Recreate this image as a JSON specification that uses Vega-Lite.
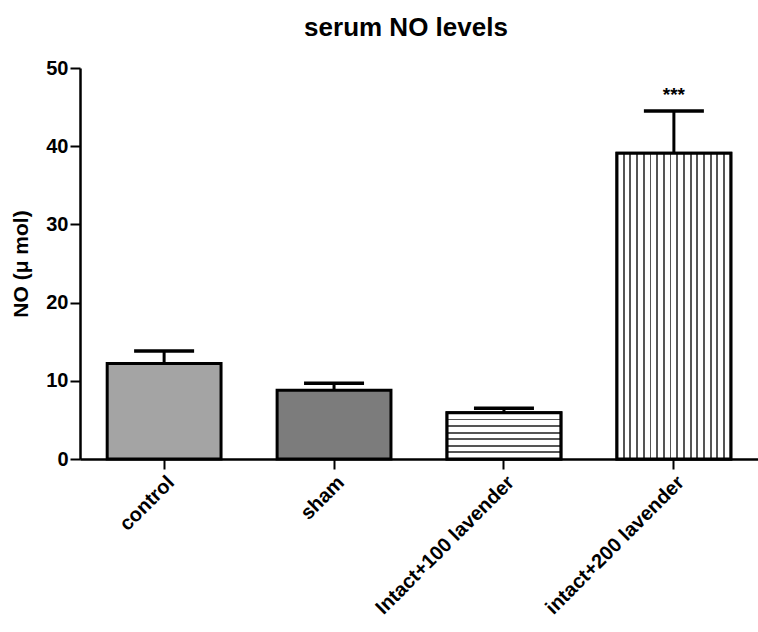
{
  "$schema": "https://vega.github.io/schema/vega-lite/v6.json",
  "autosize": {"type": "none"},
  "width": 678,
  "height": 391,
  "padding": {"left": 80, "top": 68, "right": 0, "bottom": 173},
  "background": "white",
  "config": {
    "font": "Liberation Sans",
    "view": {"stroke": null},
    "axis": {"domainColor": "black", "domainWidth": 2.5, "tickColor": "black", "tickWidth": 2, "tickSize": 10, "labelColor": "black", "labelFont": "Liberation Sans", "labelFontWeight": "bold", "titleFont": "Liberation Sans", "titleColor": "black", "grid": false},
    "tick": {"thickness": 3}
  },
  "title": {"text": "serum NO levels", "fontSize": 26, "fontWeight": "bold", "font": "Liberation Sans", "color": "black", "offset": 17, "dx": -13},
  "data": {"values": [
    {"group": "control", "NO": 12.2, "upper": 13.8, "sig": ""},
    {"group": "sham", "NO": 8.8, "upper": 9.7, "sig": ""},
    {"group": "Intact+100 lavender", "NO": 5.9, "upper": 6.5, "sig": ""},
    {"group": "intact+200 lavender", "NO": 39.1, "upper": 44.5, "sig": "***"}
  ]},
  "encoding": {
    "x": {"field": "group", "type": "nominal", "sort": null,
      "scale": {"paddingInner": 0.33, "paddingOuter": 0.16},
      "axis": {"title": null, "labelAngle": -45, "labelFontSize": 20, "labelPadding": 3, "labelLimit": 400}},
    "y": {"field": "NO", "type": "quantitative",
      "scale": {"domain": [0, 50], "nice": false},
      "axis": {"title": "NO (μ mol)", "values": [0, 10, 20, 30, 40, 50], "labelFontSize": 20, "titleFontSize": 21, "titleFontWeight": "bold", "titlePadding": 14, "labelPadding": 2}}
  },
  "layer": [
    {
      "mark": {"type": "bar", "stroke": "black", "strokeWidth": 3, "strokeJoin": "miter"},
      "encoding": {
        "fill": {"field": "group", "type": "nominal", "sort": null, "legend": null,
          "scale": {"domain": ["control", "sham", "Intact+100 lavender", "intact+200 lavender"], "range": ["#a4a4a4", "#7c7c7c", "#ffffff", "#ffffff"]}}
      }
    },
    {
      "transform": [{"filter": "datum.group === 'Intact+100 lavender'"}],
      "mark": {"type": "bar", "stroke": "black", "strokeWidth": 3, "strokeJoin": "miter",
        "fill": {"gradient": "linear", "x1": 0, "y1": 0, "x2": 0, "y2": 1, "stops": [
          {"offset": 0, "color": "#ffffff"},
          {"offset": 0.123, "color": "#ffffff"}, {"offset": 0.123, "color": "#555555"}, {"offset": 0.163, "color": "#555555"}, {"offset": 0.163, "color": "#ffffff"},
          {"offset": 0.266, "color": "#ffffff"}, {"offset": 0.266, "color": "#555555"}, {"offset": 0.306, "color": "#555555"}, {"offset": 0.306, "color": "#ffffff"},
          {"offset": 0.409, "color": "#ffffff"}, {"offset": 0.409, "color": "#555555"}, {"offset": 0.449, "color": "#555555"}, {"offset": 0.449, "color": "#ffffff"},
          {"offset": 0.551, "color": "#ffffff"}, {"offset": 0.551, "color": "#555555"}, {"offset": 0.591, "color": "#555555"}, {"offset": 0.591, "color": "#ffffff"},
          {"offset": 0.694, "color": "#ffffff"}, {"offset": 0.694, "color": "#555555"}, {"offset": 0.734, "color": "#555555"}, {"offset": 0.734, "color": "#ffffff"},
          {"offset": 0.837, "color": "#ffffff"}, {"offset": 0.837, "color": "#555555"}, {"offset": 0.877, "color": "#555555"}, {"offset": 0.877, "color": "#ffffff"},
          {"offset": 1, "color": "#ffffff"}
        ]}}
    },
    {
      "transform": [{"filter": "datum.group === 'intact+200 lavender'"}],
      "mark": {"type": "bar", "stroke": "black", "strokeWidth": 3, "strokeJoin": "miter",
        "fill": {"gradient": "linear", "x1": 0, "y1": 0, "x2": 1, "y2": 0, "stops": [
          {"offset": 0, "color": "#ffffff"},
          {"offset": 0.051, "color": "#ffffff"}, {"offset": 0.051, "color": "#555555"}, {"offset": 0.067, "color": "#555555"}, {"offset": 0.067, "color": "#ffffff"},
          {"offset": 0.110, "color": "#ffffff"}, {"offset": 0.110, "color": "#555555"}, {"offset": 0.126, "color": "#555555"}, {"offset": 0.126, "color": "#ffffff"},
          {"offset": 0.169, "color": "#ffffff"}, {"offset": 0.169, "color": "#555555"}, {"offset": 0.185, "color": "#555555"}, {"offset": 0.185, "color": "#ffffff"},
          {"offset": 0.227, "color": "#ffffff"}, {"offset": 0.227, "color": "#555555"}, {"offset": 0.243, "color": "#555555"}, {"offset": 0.243, "color": "#ffffff"},
          {"offset": 0.286, "color": "#ffffff"}, {"offset": 0.286, "color": "#555555"}, {"offset": 0.302, "color": "#555555"}, {"offset": 0.302, "color": "#ffffff"},
          {"offset": 0.345, "color": "#ffffff"}, {"offset": 0.345, "color": "#555555"}, {"offset": 0.361, "color": "#555555"}, {"offset": 0.361, "color": "#ffffff"},
          {"offset": 0.404, "color": "#ffffff"}, {"offset": 0.404, "color": "#555555"}, {"offset": 0.420, "color": "#555555"}, {"offset": 0.420, "color": "#ffffff"},
          {"offset": 0.463, "color": "#ffffff"}, {"offset": 0.463, "color": "#555555"}, {"offset": 0.479, "color": "#555555"}, {"offset": 0.479, "color": "#ffffff"},
          {"offset": 0.521, "color": "#ffffff"}, {"offset": 0.521, "color": "#555555"}, {"offset": 0.537, "color": "#555555"}, {"offset": 0.537, "color": "#ffffff"},
          {"offset": 0.580, "color": "#ffffff"}, {"offset": 0.580, "color": "#555555"}, {"offset": 0.596, "color": "#555555"}, {"offset": 0.596, "color": "#ffffff"},
          {"offset": 0.639, "color": "#ffffff"}, {"offset": 0.639, "color": "#555555"}, {"offset": 0.655, "color": "#555555"}, {"offset": 0.655, "color": "#ffffff"},
          {"offset": 0.698, "color": "#ffffff"}, {"offset": 0.698, "color": "#555555"}, {"offset": 0.714, "color": "#555555"}, {"offset": 0.714, "color": "#ffffff"},
          {"offset": 0.757, "color": "#ffffff"}, {"offset": 0.757, "color": "#555555"}, {"offset": 0.773, "color": "#555555"}, {"offset": 0.773, "color": "#ffffff"},
          {"offset": 0.815, "color": "#ffffff"}, {"offset": 0.815, "color": "#555555"}, {"offset": 0.831, "color": "#555555"}, {"offset": 0.831, "color": "#ffffff"},
          {"offset": 0.874, "color": "#ffffff"}, {"offset": 0.874, "color": "#555555"}, {"offset": 0.890, "color": "#555555"}, {"offset": 0.890, "color": "#ffffff"},
          {"offset": 0.933, "color": "#ffffff"}, {"offset": 0.933, "color": "#555555"}, {"offset": 0.949, "color": "#555555"}, {"offset": 0.949, "color": "#ffffff"},
          {"offset": 1, "color": "#ffffff"}
        ]}}
    },
    {
      "mark": {"type": "rule", "color": "black", "strokeWidth": 3},
      "encoding": {"y2": {"field": "upper"}}
    },
    {
      "mark": {"type": "tick", "color": "black", "opacity": 1, "size": 60, "thickness": 3.5, "orient": "horizontal"},
      "encoding": {"y": {"field": "upper", "type": "quantitative"}}
    },
    {
      "mark": {"type": "text", "fontSize": 19, "fontWeight": "bold", "color": "black", "baseline": "bottom", "dy": -6},
      "encoding": {"y": {"field": "upper", "type": "quantitative"}, "text": {"field": "sig"}}
    }
  ]
}
